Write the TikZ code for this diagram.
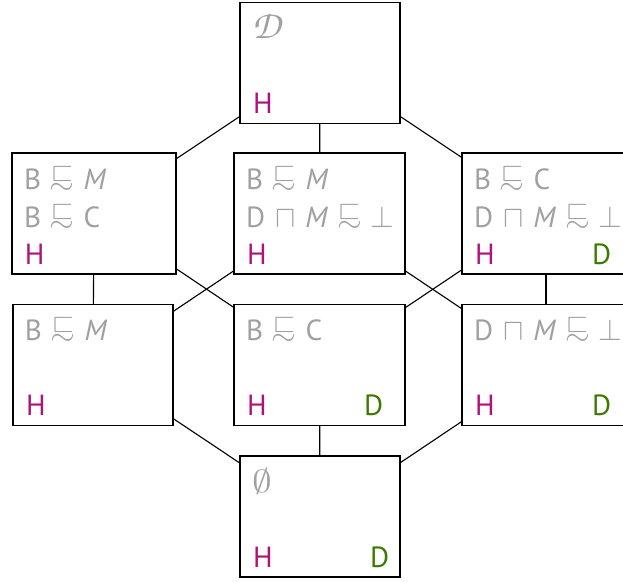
\documentclass[tikz,border=0pt]{standalone}
\usepackage{amsmath,amssymb,graphicx}
\usepackage{fontspec}
\setmainfont{PT Sans}
\definecolor{hcol}{HTML}{B0127A}
\definecolor{dcol}{HTML}{3C7A00}
\definecolor{tcol}{HTML}{A0A0A0}
\newcommand{\sqsim}{\mathrel{\ooalign{\raisebox{3.3pt}{\scalebox{1}[0.9]{$\sqsubset$}}\cr
  \hidewidth\raisebox{-1.7pt}{\scalebox{1.05}[1]{$\sim$}}\hidewidth\cr}}}
\newcommand{\gap}{\hspace{3.6pt}}
\newcommand{\scrD}{{\fontencoding{T1}\fontfamily{pzc}\selectfont\Large D}}

\begin{document}
\begin{tikzpicture}[x=0.36pt,y=-0.36pt,
  box/.style={draw,minimum height=43.56pt,inner sep=0pt},
  txt/.style={anchor=base west,inner sep=0pt,text=tcol,font=\fontsize{10.5}{12}\selectfont},
  hlab/.style={txt,text=hcol},
  dlab/.style={txt,text=dcol}]
  \useasboundingbox (0,0) rectangle (623,581);
  % boxes of the lattice, with their lines of text
  \foreach \n/\x/\y/\w/\la/\lb/\hasd in {
      top/320/63/160/{\scrD}/{}/0,
      bm/94/213.5/164/{B\gap$\sqsim$\gap\textit{M}}/{B\gap$\sqsim$\gap C}/0,
      bmd/319.5/213.5/171/{B\gap$\sqsim$\gap\textit{M}}/{D\gap$\sqcap$\gap\textit{M}\gap$\sqsim$\gap$\bot$}/0,
      bcd/546/213.5/168/{B\gap$\sqsim$\gap C}/{D\gap$\sqcap$\gap\textit{M}\gap$\sqsim$\gap$\bot$}/1,
      onlybm/93/365/160/{B\gap$\sqsim$\gap\textit{M}}/{}/0,
      onlybc/319.5/365/171/{B\gap$\sqsim$\gap C}/{}/1,
      onlyd/546/365/168/{D\gap$\sqcap$\gap\textit{M}\gap$\sqsim$\gap$\bot$}/{}/1,
      bot/320/516.5/160/{\scalebox{1.3}[1.05]{$\emptyset$}}/{}/1}{
    \node[box,minimum width=\w*0.36pt] (\n) at (\x,\y) {};
    \node[txt] at ([shift={(12,37)}]\n.north west) {\la};
    \node[txt] at ([shift={(12,75)}]\n.north west) {\lb};
    \node[hlab] at ([shift={(13,112)}]\n.north west) {H};
    \ifnum\hasd=1
      \node[dlab] at ([shift={(130,112)}]\n.north west) {D};
    \fi
  }
  % order
  \draw (top) -- (bm);
  \draw (top) -- (bmd);
  \draw (top) -- (bcd);
  \draw (bm) -- (onlybm);
  \draw (bm) -- (onlybc);
  \draw (bmd) -- (onlybm);
  \draw (bmd) -- (onlyd);
  \draw (bcd) -- (onlybc);
  \draw (bcd) -- (onlyd);
  \draw (onlybm) -- (bot);
  \draw (onlybc) -- (bot);
  \draw (onlyd) -- (bot);
\end{tikzpicture}
\end{document}
